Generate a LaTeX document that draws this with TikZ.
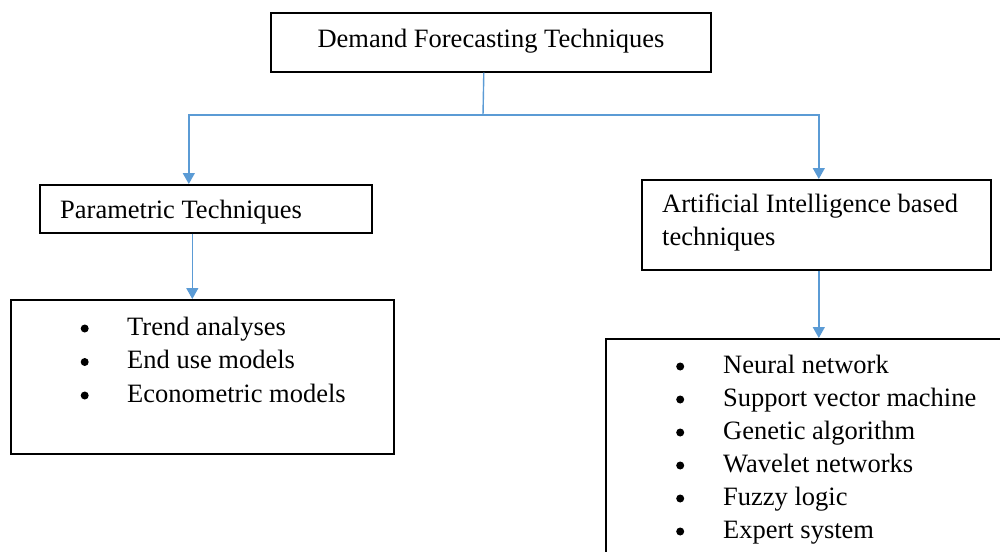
\documentclass[tikz,border=0pt]{standalone}
\usepackage{fontspec}
\setmainfont{Liberation Serif}
\usetikzlibrary{arrows.meta}
\definecolor{linkblue}{RGB}{91,155,213}
\newcommand\bulletmark{\tikz[baseline=0pt]{\useasboundingbox (0pt,0pt) rectangle (9pt,1pt);\fill[black] (4.5pt,6.5pt) circle (4pt);}}
\tikzset{
  box/.style={draw=black, line width=1.6pt, rectangle, inner sep=0pt, fill=none},
  txt/.style={inner sep=0pt, anchor=base west, font=\fontsize{26.5}{33}\selectfont},
  link/.style={draw=linkblue, line width=1.4pt},
  arr/.style={link, -{Triangle[width=12pt,length=11pt]}}
}
\begin{document}
\begin{tikzpicture}[x=1pt,y=-1pt]
\useasboundingbox (0,0) rectangle (1000,551);
\clip (0,0) rectangle (1000,551);
% boxes
\node[box, minimum width=440pt, minimum height=59pt, anchor=north west] (top) at (270,12) {};
\node[box, minimum width=332pt, minimum height=48pt, anchor=north west] (param) at (39,184) {};
\node[box, minimum width=349pt, minimum height=90pt, anchor=north west] (ai) at (641,179) {};
\node[box, minimum width=383pt, minimum height=154pt, anchor=north west] (list1) at (10,299) {};
\node[box, minimum width=420pt, minimum height=250pt, anchor=north west] (list2) at (605,338) {};
% texts
\node[txt, anchor=base] (toptext) at (491,47.5) {Demand Forecasting Techniques};
\node[txt] (paramtext) at (60,218) {Parametric Techniques};
\node[txt, align=left] (aitext) at (662,245) {Artificial Intelligence based\\techniques};
\node[txt] (items1) at (80,335) {\begin{tabular}[t]{@{}p{47pt}@{}l@{}}
\bulletmark & Trend analyses\\[0.5pt]
\bulletmark & End use models\\[0.5pt]
\bulletmark & Econometric models
\end{tabular}};
\node[txt] (items2) at (675.5,373) {\begin{tabular}[t]{@{}p{47.5pt}@{}l@{}}
\bulletmark & Neural network\\
\bulletmark & Support vector machine\\
\bulletmark & Genetic algorithm\\
\bulletmark & Wavelet networks\\
\bulletmark & Fuzzy logic\\
\bulletmark & Expert system
\end{tabular}};
% connectors
\coordinate (j) at (483,115);
\draw[link] ([xshift=-7pt]top.south) -- (j);
\draw[arr] (j) -| ([xshift=-17pt]param.north);
\draw[arr] (j) -| ([xshift=2.5pt]ai.north);
\draw[arr] ([xshift=-13.5pt]param.south) -- ([xshift=-13.5pt]param.south |- list1.north);
\draw[arr] ([xshift=2.5pt]ai.south) -- ([xshift=2.5pt]ai.south |- list2.north);
\end{tikzpicture}
\end{document}
